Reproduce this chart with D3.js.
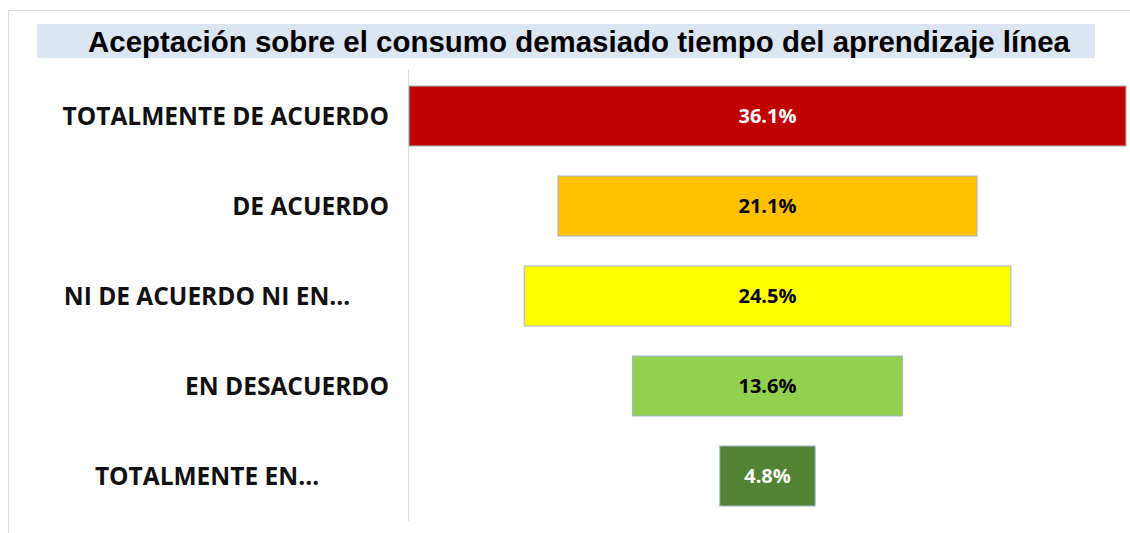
<!DOCTYPE html>
<html>
<head>
<meta charset="utf-8">
<script src="https://cdn.jsdelivr.net/npm/d3@7"></script>
<style>
  body { margin: 0; background: #fff; }
  svg { display: block; }
</style>
</head>
<body>
<div id="chart"></div>
<script>
// Data
const categories = [
    "TOTALMENTE DE ACUERDO",
    "DE ACUERDO",
    "NI DE ACUERDO NI EN…",
    "EN DESACUERDO",
    "TOTALMENTE EN…"
];
const values = [36.1, 21.1, 24.5, 13.6, 4.8];
const colors = ["#C00000", "#FFC000", "#FFFF00", "#92D050", "#548235"];
const labelColors = ["#ffffff", "#000000", "#000000", "#000000", "#ffffff"];
const title = "Aceptación sobre el consumo demasiado tiempo del aprendizaje línea";

const W = 1130, H = 533;
const svg = d3.select("#chart")
    .append("svg")
    .attr("width", W)
    .attr("height", H);

// Frame (top and left edges visible)
svg.append("path")
    .attr("d", `M8.5,${H} V10.5 H${W}`)
    .attr("fill", "none")
    .attr("stroke", "#d9d9d9");

// Title with light blue background
svg.append("rect")
    .attr("x", 37).attr("y", 24)
    .attr("width", 1058).attr("height", 34)
    .attr("fill", "#dce6f2");

svg.append("text")
    .attr("x", 579)
    .attr("y", 52)
    .attr("text-anchor", "middle")
    .attr("font-family", "Liberation Sans, Arial, sans-serif")
    .attr("font-weight", "bold")
    .attr("font-size", 30)
    .attr("textLength", 982)
    .attr("lengthAdjust", "spacingAndGlyphs")
    .attr("fill", "#000")
    .text(title);

// Scales
const y = d3.scaleBand()
    .domain(categories)
    .range([71, 521])
    .paddingInner(1 / 3)
    .paddingOuter(1 / 6);

const plotLeft = 409, plotRight = 1126;
const cx = (plotLeft + plotRight) / 2;
const x = d3.scaleLinear()
    .domain([0, d3.max(values)])
    .range([0, plotRight - plotLeft]);

// Vertical axis line
svg.append("line")
    .attr("x1", 408.5).attr("x2", 408.5)
    .attr("y1", 70).attr("y2", 521)
    .attr("stroke", "#d9d9d9");

const rows = categories.map((c, i) => ({
    cat: c, value: values[i], color: colors[i], lc: labelColors[i]
}));

// Funnel bars (centred)
svg.selectAll("rect.bar")
    .data(rows)
    .enter()
    .append("rect")
    .attr("class", "bar")
    .attr("x", d => cx - x(d.value) / 2)
    .attr("y", d => y(d.cat))
    .attr("width", d => x(d.value))
    .attr("height", y.bandwidth())
    .attr("fill", d => d.color)
    .attr("stroke", "#9fb6d3")
    .attr("stroke-width", 1);

// Value labels
svg.selectAll("text.val")
    .data(rows)
    .enter()
    .append("text")
    .attr("class", "val")
    .attr("x", cx)
    .attr("y", d => y(d.cat) + y.bandwidth() / 2)
    .attr("dy", "0.35em")
    .attr("text-anchor", "middle")
    .attr("font-family", "Open Sans, sans-serif")
    .attr("font-weight", "bold")
    .attr("font-size", 20)
    .attr("fill", d => d.lc)
    .text(d => d.value.toFixed(1) + "%");

// Category labels: full ones right aligned, truncated ones centred
svg.selectAll("text.cat")
    .data(rows)
    .enter()
    .append("text")
    .attr("class", "cat")
    .attr("x", d => d.cat.endsWith("…") ? 207 : 389)
    .attr("y", d => y(d.cat) + y.bandwidth() / 2)
    .attr("dy", "0.35em")
    .attr("text-anchor", d => d.cat.endsWith("…") ? "middle" : "end")
    .attr("font-family", "Open Sans, sans-serif")
    .attr("font-weight", "bold")
    .attr("font-size", 24.5)
    .attr("fill", "#111")
    .text(d => d.cat);
</script>
</body>
</html>
